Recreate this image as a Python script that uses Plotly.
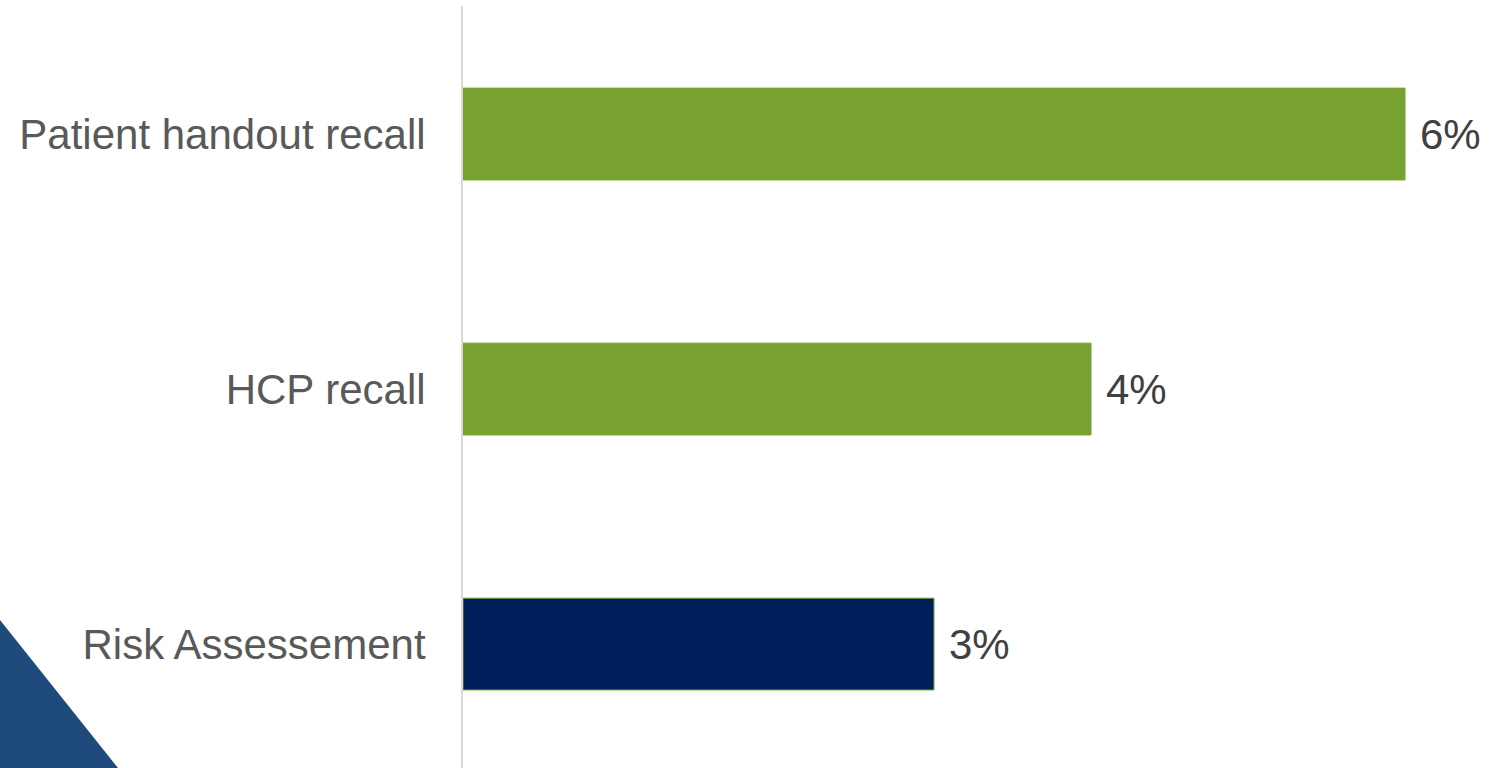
import plotly.graph_objects as go

# Share of respondents by source
categories = ["Patient handout recall", "HCP recall", "Risk Assessement"]
values = [6, 4, 3]
value_labels = ["6%", "4%", "3%"]
bar_colors = ["#78A22F", "#78A22F", "#00205B"]

FONT = "Liberation Sans, Arial, sans-serif"

fig = go.Figure(
    go.Bar(
        y=categories,
        x=values,
        orientation="h",
        width=0.36,
        marker=dict(color=bar_colors, line=dict(color="#78A22F", width=1)),
        hoverinfo="skip",
    )
)

# value labels at the end of each bar
for cat, val, lab in zip(categories, values, value_labels):
    fig.add_annotation(
        x=val, y=cat, text=lab, showarrow=False,
        xanchor="left", xshift=13,
        font=dict(family=FONT, size=42, color="#404040"),
    )

# decorative corner triangle
fig.add_shape(
    type="path",
    xref="paper", yref="paper",
    xsizemode="pixel", ysizemode="pixel",
    xanchor=0, yanchor=0,
    path="M -463,0 L -463,148 L -345,0 Z",
    fillcolor="#1F4A7C", line=dict(width=0),
    layer="below",
)

fig.update_layout(
    width=1500, height=768,
    margin=dict(l=463, r=0, t=6, b=0),
    paper_bgcolor="white", plot_bgcolor="white",
    showlegend=False,
    xaxis=dict(range=[0, 6.605], visible=False, fixedrange=True),
    yaxis=dict(
        range=[2.486, -0.502],
        showline=True, linecolor="#D9D9D9", linewidth=2,
        showgrid=False, zeroline=False, ticks="",
        ticklabelstandoff=27,
        tickfont=dict(family=FONT, size=42, color="#595959"),
        fixedrange=True,
    ),
)

fig.write_html("out.html", config={"displayModeBar": False})
